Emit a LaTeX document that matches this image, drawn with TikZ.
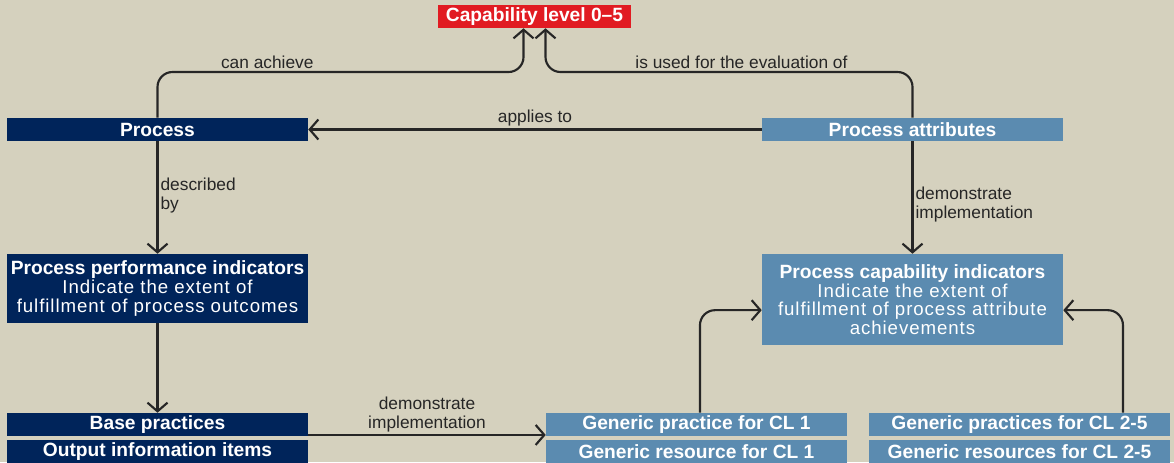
\documentclass[tikz,border=0pt]{standalone}
\usepackage{fontspec}
\setmainfont{Liberation Sans}
\newfontfamily\bodyfont[LetterSpace=5]{Liberation Sans}
\usetikzlibrary{arrows.meta}
\definecolor{bgtan}{HTML}{D5D1BE}
\definecolor{navy}{HTML}{00245A}
\definecolor{steel}{HTML}{5B8BB0}
\definecolor{signal}{HTML}{E11B22}
\definecolor{ink}{HTML}{262626}
\newcommand\bodyline[1]{{\bodyfont\mdseries\fontsize{14}{13.9}\selectfont #1}}
\begin{document}
\begin{tikzpicture}[x=0.75pt,y=0.75pt,yscale=-1,xscale=1,
    darkbox/.style={fill=navy, text=white, minimum width=225.75pt, minimum height=17.25pt, inner sep=0pt, font=\fontsize{14.4}{13.9}\selectfont\bfseries},
    lightbox/.style={darkbox, fill=steel},
    redbox/.style={darkbox, fill=signal, minimum width=144.75pt},
    lbl/.style={text=ink, inner sep=1.5pt, font=\fontsize{13}{14.2}\selectfont},
    link/.style={draw=ink, line width=1.6pt, rounded corners=11.25pt, -{Straight Barb[length=6.5pt,width=15pt]}}]
    % Background
    \fill[bgtan] (0,0) rectangle (1174,462);
    \useasboundingbox (0,0) rectangle (1174,462);

    % Text Node
    \node[redbox] (level) at (534.5,16.5) {Capability level 0--5};
    % Text Node
    \node[darkbox] (process) at (157.5,129.5) {Process};
    % Text Node
    \node[lightbox] (attributes) at (912.5,129.5) {Process attributes};
    % Text Node
    \node[darkbox, minimum height=51.75pt, align=center] (ppi) at (157.5,288.5) {Process performance indicators\\\bodyline{Indicate the extent of}\\\bodyline{fulfillment of process outcomes}};
    % Text Node
    \node[lightbox, minimum height=68.25pt, align=center] (pci) at (912.5,299.5) {Process capability indicators\\\bodyline{Indicate the extent of}\\\bodyline{fulfillment of process attribute}\\\bodyline{achievements}};
    % Text Node
    \node[darkbox] (base) at (157.5,424.5) {Base practices};
    % Text Node
    \node[darkbox] (output) at (157.5,451.5) {Output information items};
    % Text Node
    \node[lightbox] (gpone) at (696.5,424.5) {Generic practice for CL 1};
    % Text Node
    \node[lightbox] (grone) at (696.5,451.5) {Generic resource for CL 1};
    % Text Node
    \node[lightbox] (gpmore) at (1019.5,424.5) {Generic practices for CL 2-5};
    % Text Node
    \node[lightbox] (grmore) at (1019.5,451.5) {Generic resources for CL 2-5};

    \coordinate (bend) at (0,72);
    \coordinate (levelL) at ([xshift=-8.25pt]level.south);
    \coordinate (levelR) at ([xshift=8.25pt]level.south);

    %Straight Lines
    \draw[link] (process.north) -- (process.north |- bend) -| node[lbl, above, pos=0.15] {can achieve} (levelL);
    %Straight Lines
    \draw[link] (attributes.north) -- (attributes.north |- bend) -| node[lbl, above, pos=0.233] {is used for the evaluation of} (levelR);
    %Straight Lines
    \draw[link] (attributes.west) -- node[lbl, above] {applies to} (process.east);
    %Straight Lines
    \draw[link] (process.south) -- node[lbl, right, align=left, pos=0.48] {described\\by} (ppi.north);
    %Straight Lines
    \draw[link] (attributes.south) -- node[lbl, right, align=left, pos=0.56] {demonstrate\\implementation} (pci.north);
    %Straight Lines
    \draw[link] (ppi.south) -- (base.north);
    %Straight Lines
    \draw[link] ([yshift=-1pt]base.south east) -- node[lbl, above, align=center] {demonstrate\\implementation} ([yshift=-1pt]gpone.south west);
    %Straight Lines
    \draw[link] ([xshift=2.6pt]gpone.north) |- ([yshift=8pt]pci.west);
    %Straight Lines
    \draw[link] ([xshift=77.6pt]gpmore.north) |- ([yshift=8pt]pci.east);
\end{tikzpicture}
\end{document}
